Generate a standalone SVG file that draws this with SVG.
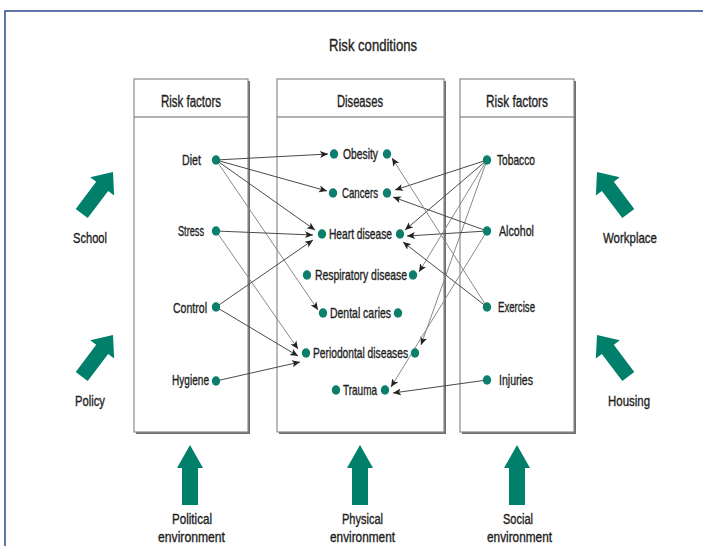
<svg xmlns="http://www.w3.org/2000/svg" width="703" height="546" viewBox="0 0 703 546">
<style>
text{font-family:"Liberation Sans",Arial,sans-serif;fill:#1e1e1e;stroke:#1e1e1e;stroke-width:0.35;}
.t{font-size:15px;}
.b{font-size:14px;}
.h{font-size:16px;}
.box{fill:#fff;stroke:#8c8c8c;stroke-width:1.2;}
.shadow{fill:#6e6e6e;}
.dot{fill:#0b7f6c;}
.big{fill:#00806b;}
.c{stroke:#4a4a4a;stroke-width:1;fill:none;marker-end:url(#ah);}
.cl{stroke:#8a8a8a;stroke-width:1;fill:none;marker-end:url(#ah);}
</style>
<defs>
<marker id="ah" markerUnits="userSpaceOnUse" markerWidth="9" markerHeight="8" refX="8" refY="4" orient="auto">
<path d="M0,0.5 L8,4 L0,7.5 L2,4 Z" fill="#222"/>
</marker>
<polygon id="diag" points="0,0 15,18 7.5,18 7.5,52 -7.5,52 -7.5,18 -15,18"/>
<polygon id="up" points="0,0 13,23 8,23 8,60 -8,60 -8,23 -13,23"/>
</defs>
<rect width="703" height="546" fill="#fff"/>
<path d="M5,546 L5,11 L703,11" fill="none" stroke="#2a4a8a" stroke-width="1.5"/>
<text class="h" x="329" y="51" textLength="88" lengthAdjust="spacingAndGlyphs">Risk conditions</text>

<g id="box-left">
<rect class="shadow" x="136" y="81" width="114" height="353"/>
<rect class="box" x="134" y="79" width="114" height="353"/>
<line x1="134" y1="117" x2="248" y2="117" stroke="#666" stroke-width="1.2"/>
<text class="h" x="161" y="107" textLength="60" lengthAdjust="spacingAndGlyphs">Risk factors</text>
</g>
<g id="box-middle">
<rect class="shadow" x="279" y="81" width="167" height="353"/>
<rect class="box" x="277" y="79" width="167" height="353"/>
<line x1="277" y1="117" x2="444" y2="117" stroke="#666" stroke-width="1.2"/>
<text class="h" x="337" y="107" textLength="46" lengthAdjust="spacingAndGlyphs">Diseases</text>
</g>
<g id="box-right">
<rect class="shadow" x="462" y="81" width="114" height="353"/>
<rect class="box" x="460" y="79" width="114" height="353"/>
<line x1="460" y1="117" x2="574" y2="117" stroke="#666" stroke-width="1.2"/>
<text class="h" x="486" y="107" textLength="62" lengthAdjust="spacingAndGlyphs">Risk factors</text>
</g>

<g id="connectors">
<line class="c" x1="216" y1="160" x2="328" y2="154"/>
<line class="c" x1="216" y1="160" x2="327" y2="191"/>
<line class="c" x1="216" y1="160" x2="315" y2="230"/>
<line class="cl" x1="216" y1="160" x2="318" y2="310"/>
<line class="c" x1="216" y1="231" x2="313" y2="235"/>
<line class="cl" x1="216" y1="231" x2="298" y2="349"/>
<line class="c" x1="216" y1="307" x2="313" y2="240"/>
<line class="c" x1="216" y1="307" x2="298" y2="356"/>
<line class="c" x1="216" y1="381" x2="300" y2="362"/>
<line class="c" x1="487" y1="160" x2="395" y2="190"/>
<line class="c" x1="487" y1="160" x2="405" y2="230"/>
<line class="cl" x1="487" y1="160" x2="419" y2="272"/>
<line class="cl" x1="487" y1="160" x2="421" y2="345"/>
<line class="c" x1="487" y1="231" x2="393" y2="197"/>
<line class="c" x1="487" y1="231" x2="407" y2="236"/>
<line class="cl" x1="487" y1="231" x2="391" y2="387"/>
<line class="cl" x1="487" y1="307" x2="392" y2="158"/>
<line class="c" x1="487" y1="307" x2="403" y2="242"/>
<line class="c" x1="487" y1="380" x2="393" y2="393"/>
</g>

<g id="diet"><text class="t" x="182" y="165" textLength="19" lengthAdjust="spacingAndGlyphs">Diet</text><ellipse class="dot" cx="216" cy="160" rx="4.2" ry="4.7"/></g>
<g id="stress"><text class="t" x="178" y="236" textLength="26" lengthAdjust="spacingAndGlyphs">Stress</text><ellipse class="dot" cx="216" cy="231" rx="4.2" ry="4.7"/></g>
<g id="control"><text class="t" x="173" y="313" textLength="34" lengthAdjust="spacingAndGlyphs">Control</text><ellipse class="dot" cx="216" cy="307" rx="4.2" ry="4.7"/></g>
<g id="hygiene"><text class="t" x="172" y="385" textLength="37" lengthAdjust="spacingAndGlyphs">Hygiene</text><ellipse class="dot" cx="216" cy="381" rx="4.2" ry="4.7"/></g>

<g id="obesity"><ellipse class="dot" cx="334" cy="154" rx="4.2" ry="4.7"/><text class="t" x="343" y="159" textLength="35" lengthAdjust="spacingAndGlyphs">Obesity</text><ellipse class="dot" cx="387" cy="154" rx="4.2" ry="4.7"/></g>
<g id="cancers"><ellipse class="dot" cx="333" cy="193" rx="4.2" ry="4.7"/><text class="t" x="342" y="198" textLength="36" lengthAdjust="spacingAndGlyphs">Cancers</text><ellipse class="dot" cx="387" cy="193" rx="4.2" ry="4.7"/></g>
<g id="heart-disease"><ellipse class="dot" cx="322" cy="234" rx="4.2" ry="4.7"/><text class="t" x="329" y="239" textLength="63" lengthAdjust="spacingAndGlyphs">Heart disease</text><ellipse class="dot" cx="400" cy="234" rx="4.2" ry="4.7"/></g>
<g id="respiratory-disease"><ellipse class="dot" cx="307" cy="275" rx="4.2" ry="4.7"/><text class="t" x="315" y="280" textLength="92" lengthAdjust="spacingAndGlyphs">Respiratory disease</text><ellipse class="dot" cx="413" cy="275" rx="4.2" ry="4.7"/></g>
<g id="dental-caries"><ellipse class="dot" cx="323" cy="313" rx="4.2" ry="4.7"/><text class="t" x="330" y="318" textLength="61" lengthAdjust="spacingAndGlyphs">Dental caries</text><ellipse class="dot" cx="398" cy="313" rx="4.2" ry="4.7"/></g>
<g id="periodontal-diseases"><ellipse class="dot" cx="306" cy="353" rx="4.2" ry="4.7"/><text class="t" x="313" y="358" textLength="95" lengthAdjust="spacingAndGlyphs">Periodontal diseases</text><ellipse class="dot" cx="415" cy="353" rx="4.2" ry="4.7"/></g>
<g id="trauma"><ellipse class="dot" cx="336" cy="390" rx="4.2" ry="4.7"/><text class="t" x="343" y="395" textLength="34" lengthAdjust="spacingAndGlyphs">Trauma</text><ellipse class="dot" cx="385" cy="390" rx="4.2" ry="4.7"/></g>

<g id="tobacco"><ellipse class="dot" cx="487" cy="160" rx="4.2" ry="4.7"/><text class="t" x="497" y="165" textLength="38" lengthAdjust="spacingAndGlyphs">Tobacco</text></g>
<g id="alcohol"><ellipse class="dot" cx="487" cy="231" rx="4.2" ry="4.7"/><text class="t" x="499" y="236" textLength="35" lengthAdjust="spacingAndGlyphs">Alcohol</text></g>
<g id="exercise"><ellipse class="dot" cx="487" cy="307" rx="4.2" ry="4.7"/><text class="t" x="498" y="312" textLength="37" lengthAdjust="spacingAndGlyphs">Exercise</text></g>
<g id="injuries"><ellipse class="dot" cx="487" cy="380" rx="4.2" ry="4.7"/><text class="t" x="499" y="385" textLength="34" lengthAdjust="spacingAndGlyphs">Injuries</text></g>

<g id="school"><use href="#diag" class="big" transform="translate(113,172) rotate(37)"/><text class="t" x="73" y="243" textLength="34" lengthAdjust="spacingAndGlyphs">School</text></g>
<g id="policy"><use href="#diag" class="big" transform="translate(113,335) rotate(37)"/><text class="t" x="75" y="406" textLength="30" lengthAdjust="spacingAndGlyphs">Policy</text></g>
<g id="workplace"><use href="#diag" class="big" transform="translate(597,172) rotate(-37)"/><text class="t" x="603" y="243" textLength="54" lengthAdjust="spacingAndGlyphs">Workplace</text></g>
<g id="housing"><use href="#diag" class="big" transform="translate(597,335) rotate(-37)"/><text class="t" x="608" y="406" textLength="42" lengthAdjust="spacingAndGlyphs">Housing</text></g>

<g id="political-environment"><use href="#up" class="big" transform="translate(190,445)"/><text class="b" x="172" y="524" textLength="40" lengthAdjust="spacingAndGlyphs">Political</text><text class="b" x="158" y="542" textLength="67" lengthAdjust="spacingAndGlyphs">environment</text></g>
<g id="physical-environment"><use href="#up" class="big" transform="translate(360,445)"/><text class="b" x="342" y="524" textLength="41" lengthAdjust="spacingAndGlyphs">Physical</text><text class="b" x="330" y="542" textLength="65" lengthAdjust="spacingAndGlyphs">environment</text></g>
<g id="social-environment"><use href="#up" class="big" transform="translate(517,445)"/><text class="b" x="503" y="524" textLength="30" lengthAdjust="spacingAndGlyphs">Social</text><text class="b" x="487" y="542" textLength="65" lengthAdjust="spacingAndGlyphs">environment</text></g>
</svg>
